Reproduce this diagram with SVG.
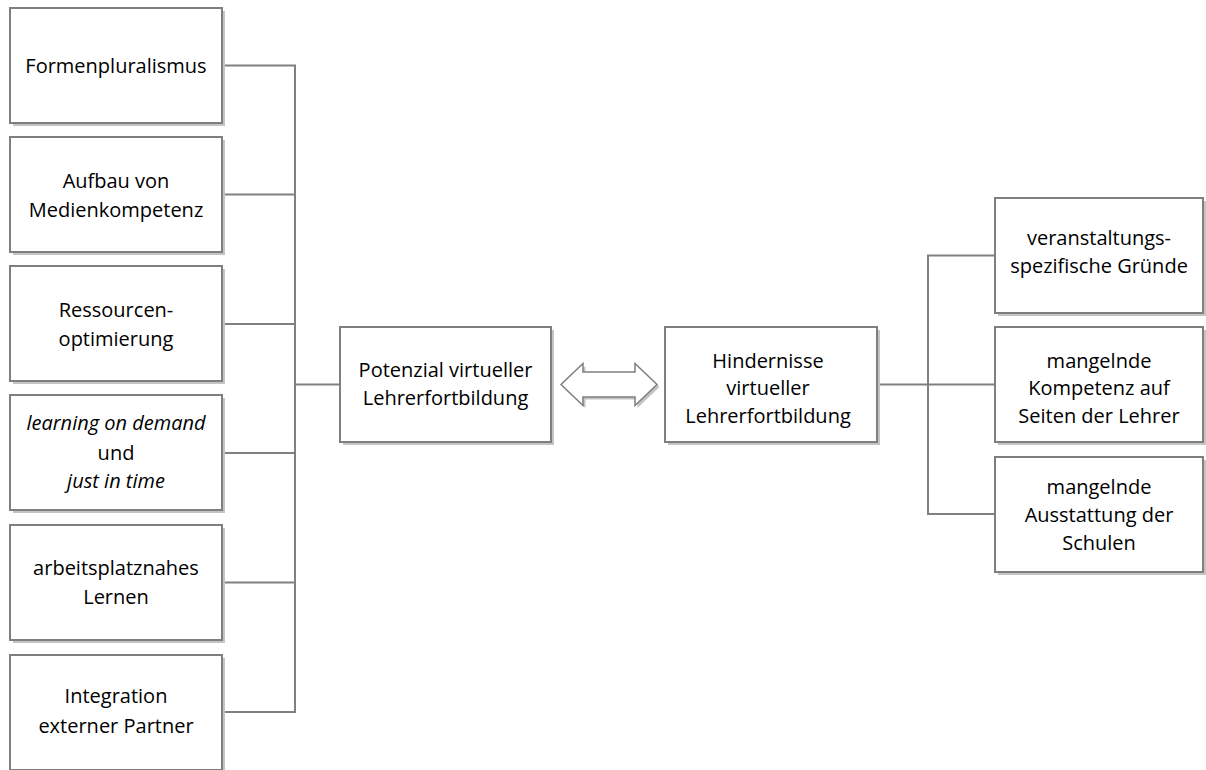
<svg xmlns="http://www.w3.org/2000/svg" width="1206" height="770" viewBox="0 0 1206 770">
  <defs>
    <style>
      .shadow { fill: #c4c4c4; }
      .box { fill: #ffffff; stroke: #7f7f7f; stroke-width: 2; }
      .link { fill: none; stroke: #808080; stroke-width: 2; }
      text { font-family: "Open Sans", "Liberation Sans", sans-serif; font-size: 20px; fill: #000000; text-anchor: middle; }
      .it { font-style: italic; }
    </style>
  </defs>
  <rect width="1206" height="770" fill="#ffffff"/>

  <!-- connectors -->
  <g id="connectors">
    <polyline class="link" points="222,65.5 295,65.5 295,712 222,712"/>
    <line class="link" x1="222" y1="194.5" x2="295" y2="194.5"/>
    <line class="link" x1="222" y1="324" x2="295" y2="324"/>
    <line class="link" x1="222" y1="453" x2="295" y2="453"/>
    <line class="link" x1="222" y1="582.5" x2="295" y2="582.5"/>
    <line class="link" x1="295" y1="384.5" x2="340" y2="384.5"/>
    <line class="link" x1="877" y1="384.5" x2="995" y2="384.5"/>
    <polyline class="link" points="995,255.5 928,255.5 928,514 995,514"/>
    <g id="double-arrow">
      <polygon class="shadow" transform="translate(2.5,2.5)" points="561,384.5 583,363.5 583,372 635,372 635,363.5 657,384.5 635,405.5 635,397 583,397 583,405.5"/>
      <polygon fill="#ffffff" stroke="#7f7f7f" stroke-width="1.5" points="561,384.5 583,363.5 583,372 635,372 635,363.5 657,384.5 635,405.5 635,397 583,397 583,405.5"/>
    </g>
  </g>

  <!-- left column -->
  <g id="formenpluralismus">
    <rect class="shadow" x="13" y="11" width="212" height="115"/>
    <rect class="box" x="10" y="8" width="212" height="115"/>
    <text x="116" y="72.5">Formenpluralismus</text>
  </g>
  <g id="medienkompetenz">
    <rect class="shadow" x="13" y="140" width="212" height="115"/>
    <rect class="box" x="10" y="137" width="212" height="115"/>
    <text x="116" y="188">Aufbau von</text>
    <text x="116" y="217">Medienkompetenz</text>
  </g>
  <g id="ressourcenoptimierung">
    <rect class="shadow" x="13" y="269" width="212" height="115"/>
    <rect class="box" x="10" y="266" width="212" height="115"/>
    <text x="116" y="317">Ressourcen-</text>
    <text x="116" y="346">optimierung</text>
  </g>
  <g id="learning-on-demand">
    <rect class="shadow" x="13" y="398" width="212" height="115"/>
    <rect class="box" x="10" y="395" width="212" height="115"/>
    <text class="it" x="116" y="430">learning on demand</text>
    <text x="116" y="459.5">und</text>
    <text class="it" x="116" y="488">just in time</text>
  </g>
  <g id="arbeitsplatznahes-lernen">
    <rect class="shadow" x="13" y="528" width="212" height="115"/>
    <rect class="box" x="10" y="525" width="212" height="115"/>
    <text x="116" y="575">arbeitsplatznahes</text>
    <text x="116" y="604">Lernen</text>
  </g>
  <g id="externe-partner">
    <rect class="shadow" x="13" y="658" width="212" height="115"/>
    <rect class="box" x="10" y="655" width="212" height="115"/>
    <text x="116" y="703">Integration</text>
    <text x="116" y="733">externer Partner</text>
  </g>

  <!-- centre -->
  <g id="potenzial">
    <rect class="shadow" x="343" y="330" width="211" height="115"/>
    <rect class="box" x="340" y="327" width="211" height="115"/>
    <text x="445.5" y="377">Potenzial virtueller</text>
    <text x="445.5" y="405">Lehrerfortbildung</text>
  </g>
  <g id="hindernisse">
    <rect class="shadow" x="668" y="330" width="212" height="115"/>
    <rect class="box" x="665" y="327" width="212" height="115"/>
    <text x="768" y="367.5">Hindernisse</text>
    <text x="768" y="395">virtueller</text>
    <text x="768" y="423">Lehrerfortbildung</text>
  </g>

  <!-- right column -->
  <g id="veranstaltungsspezifisch">
    <rect class="shadow" x="998" y="201" width="208" height="115"/>
    <rect class="box" x="995" y="198" width="208" height="115"/>
    <text x="1099" y="245">veranstaltungs-</text>
    <text x="1099" y="273">spezifische Gründe</text>
  </g>
  <g id="kompetenz-lehrer">
    <rect class="shadow" x="998" y="330" width="208" height="115"/>
    <rect class="box" x="995" y="327" width="208" height="115"/>
    <text x="1099" y="367.5">mangelnde</text>
    <text x="1099" y="395">Kompetenz auf</text>
    <text x="1099" y="423">Seiten der Lehrer</text>
  </g>
  <g id="ausstattung-schulen">
    <rect class="shadow" x="998" y="460" width="208" height="115"/>
    <rect class="box" x="995" y="457" width="208" height="115"/>
    <text x="1099" y="493.5">mangelnde</text>
    <text x="1099" y="522">Ausstattung der</text>
    <text x="1099" y="550">Schulen</text>
  </g>
</svg>
